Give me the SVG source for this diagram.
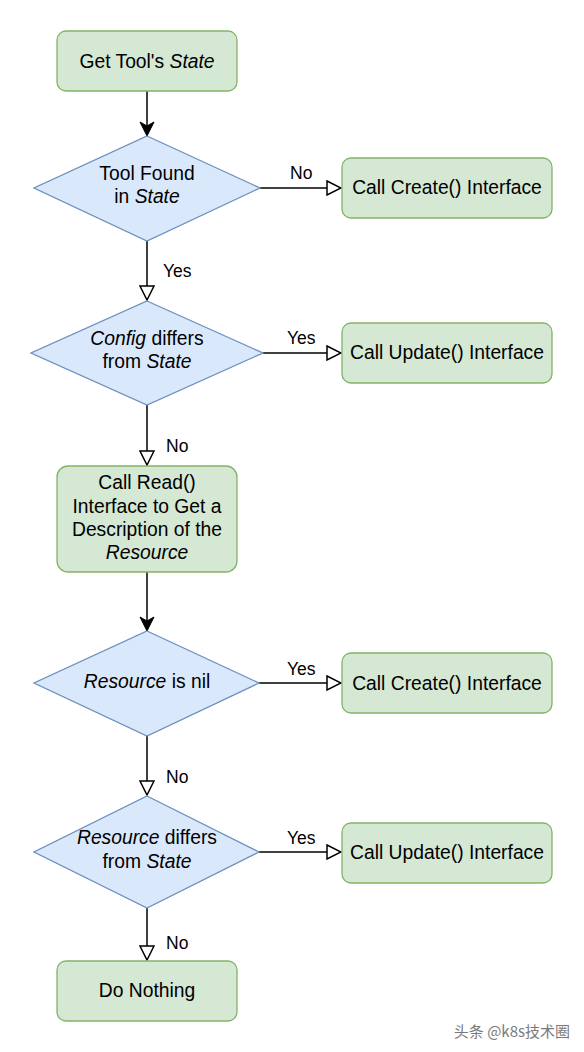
<svg xmlns="http://www.w3.org/2000/svg" width="584" height="1052" viewBox="0 0 584 1052">
<style>
  .box { fill: #d5e8d4; stroke: #82b366; stroke-width: 1.3; }
  .dia { fill: #dae8fc; stroke: #6c8ebf; stroke-width: 1.3; }
  .t { font-family: "Liberation Sans", Arial, sans-serif; font-size: 19.3px; fill: #000; text-anchor: middle; }
  .lbl { font-family: "Liberation Sans", Arial, sans-serif; font-size: 17.5px; fill: #000; }
  .i { font-style: italic; }
  .edge { stroke: #000; stroke-width: 1.5; fill: none; }
  .open { marker-end: url(#openArrow); }
  .filled { marker-end: url(#filledArrow); }
  .wm { font-family: "Noto Sans CJK SC", "Liberation Sans", sans-serif; font-size: 15px; fill: #7a7a7a; text-anchor: end; }
</style>
<defs>
  <marker id="openArrow" markerUnits="userSpaceOnUse" markerWidth="16" markerHeight="16" refX="14" refY="7" orient="auto" viewBox="-1 -1 16 16">
    <path d="M0,0 L14,7 L0,14 Z" fill="#fff" stroke="#000" stroke-width="1.5"/>
  </marker>
  <marker id="filledArrow" markerUnits="userSpaceOnUse" markerWidth="16" markerHeight="16" refX="14" refY="7" orient="auto" viewBox="-1 -1 16 16">
    <path d="M0,0 L14,7 L0,14 L4,7 Z" fill="#000" stroke="#000" stroke-width="1"/>
  </marker>
</defs>
<rect width="584" height="1052" fill="#fff"/>

<g id="connectors">
  <line class="edge filled" x1="147" y1="91" x2="147" y2="136"/>
  <line class="edge open" x1="260" y1="188" x2="341" y2="188"/>
  <line class="edge open" x1="147" y1="241" x2="147" y2="300"/>
  <line class="edge open" x1="263" y1="353" x2="341" y2="353"/>
  <line class="edge open" x1="147" y1="405" x2="147" y2="465"/>
  <line class="edge filled" x1="147" y1="572" x2="147" y2="631"/>
  <line class="edge open" x1="259" y1="683" x2="341" y2="683"/>
  <line class="edge open" x1="147" y1="736" x2="147" y2="795"/>
  <line class="edge open" x1="259" y1="852" x2="341" y2="852"/>
  <line class="edge open" x1="147" y1="908" x2="147" y2="960"/>
  <text class="lbl" x="290" y="179">No</text>
  <text class="lbl" x="163" y="277">Yes</text>
  <text class="lbl" x="287" y="344">Yes</text>
  <text class="lbl" x="166" y="452">No</text>
  <text class="lbl" x="287" y="675">Yes</text>
  <text class="lbl" x="166" y="783">No</text>
  <text class="lbl" x="287" y="844">Yes</text>
  <text class="lbl" x="166" y="949">No</text>
</g>

<g id="get-state">
  <rect class="box" x="57" y="31" width="180" height="60" rx="9"/>
  <text class="t" x="147" y="68">Get Tool's <tspan class="i">State</tspan></text>
</g>

<g id="tool-found">
  <polygon class="dia" points="147,136 260,188 147,241 34,188"/>
  <text class="t" x="147" y="180">Tool Found</text>
  <text class="t" x="147" y="203">in <tspan class="i">State</tspan></text>
</g>

<g id="create-1">
  <rect class="box" x="342" y="158" width="210" height="60" rx="9"/>
  <text class="t" x="447" y="194">Call Create() Interface</text>
</g>

<g id="config-differs">
  <polygon class="dia" points="147,301 263,353 147,405 31,353"/>
  <text class="t" x="147" y="345"><tspan class="i">Config</tspan> differs</text>
  <text class="t" x="147" y="368">from <tspan class="i">State</tspan></text>
</g>

<g id="update-1">
  <rect class="box" x="342" y="323" width="210" height="60" rx="9"/>
  <text class="t" x="447" y="359">Call Update() Interface</text>
</g>

<g id="read">
  <rect class="box" x="57" y="466" width="180" height="106" rx="11"/>
  <text class="t" x="147" y="489">Call Read()</text>
  <text class="t" x="147" y="513">Interface to Get a</text>
  <text class="t" x="147" y="536">Description of the</text>
  <text class="t" x="147" y="559"><tspan class="i">Resource</tspan></text>
</g>

<g id="resource-nil">
  <polygon class="dia" points="147,631 259,683 147,736 34,683"/>
  <text class="t" x="147" y="688"><tspan class="i">Resource</tspan> is nil</text>
</g>

<g id="create-2">
  <rect class="box" x="342" y="653" width="210" height="60" rx="9"/>
  <text class="t" x="447" y="690">Call Create() Interface</text>
</g>

<g id="resource-differs">
  <polygon class="dia" points="147,796 259,852 147,908 34,852"/>
  <text class="t" x="147" y="844"><tspan class="i">Resource</tspan> differs</text>
  <text class="t" x="147" y="868">from <tspan class="i">State</tspan></text>
</g>

<g id="update-2">
  <rect class="box" x="342" y="823" width="210" height="60" rx="9"/>
  <text class="t" x="447" y="859">Call Update() Interface</text>
</g>

<g id="do-nothing">
  <rect class="box" x="57" y="961" width="180" height="60" rx="9"/>
  <text class="t" x="147" y="997">Do Nothing</text>
</g>

<text class="wm" x="570" y="1037">头条 @k8s技术圈</text>
</svg>
